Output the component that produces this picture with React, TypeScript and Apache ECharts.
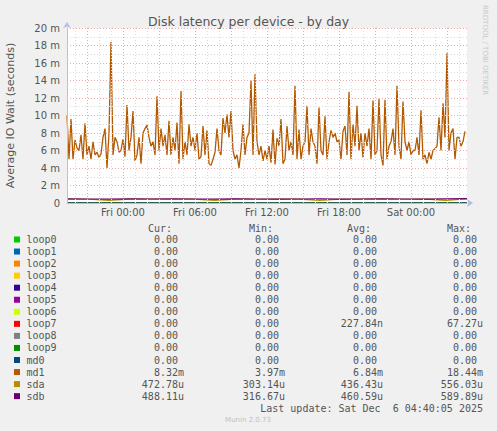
import React, { useEffect, useRef } from 'react';
import * as echarts from 'echarts';

// time axis: hours relative to Fri 00:00, 10 minute samples from Thu 19:20 to Sat 04:40
const startHour = -14 / 3;
const endHour = 28 + 2 / 3;
const stepHour = 1 / 6;

// md1 latency (ms)
const md1 = [
  10, 5, 9.6, 5, 7.2, 6.3, 6, 7.8, 5, 9.1, 5.5, 6.5, 5, 7, 5.5, 5.8, 5.2, 5.6, 7.5, 8.5,
  4, 8, 18.4, 5.5, 7.5, 7, 5.8, 6, 7.3, 5.3, 11.2, 6, 7.5, 10.5, 4.8, 5.5, 7.5, 4.5, 8, 8.5,
  8.9, 7.5, 6.5, 7, 5.5, 12.2, 6, 8.5, 6.5, 7.8, 5.5, 9.4, 5.5, 7.5, 6, 9.2, 4.5, 12.8, 5, 7,
  5.5, 9, 6.5, 7.5, 6, 8, 5, 5.3, 8.8, 5.5, 8.3, 4.5, 4.3, 5, 5.8, 8.5, 6, 5.5, 9.7, 8,
  10.1, 7.5, 10.5, 6, 5, 5.5, 4, 6, 9, 5.5, 7.5, 8, 14, 5.5, 14.7, 7, 5.5, 6.5, 4.8, 6,
  5, 6.5, 4.6, 8.4, 4.4, 7.4, 6.5, 9.6, 4.5, 5, 8.8, 6, 7, 5.5, 13.4, 5, 8.4, 5, 6.5, 7,
  11.1, 5.5, 8.5, 7, 6.5, 4.5, 10.9, 6, 5.5, 9.9, 5, 7, 8.3, 7.5, 8, 7, 7.2, 5, 8.2, 8.8,
  5.5, 12.7, 5, 9, 6.5, 11.1, 6, 8, 5.2, 8, 6.5, 8.5, 5, 11.7, 5.5, 6, 11.9, 5.5, 4.3, 11.8,
  5, 6.5, 7, 8.5, 5.5, 13.4, 6.5, 5, 11.6, 7, 6, 7, 5.5, 6, 6, 7.5, 5.5, 10.6, 5, 5.5,
  4.5, 5.8, 5, 6, 6.2, 6.5, 9.8, 6, 11.4, 7.5, 17.1, 6, 8, 8.5, 5, 7.5, 7.5, 6.5, 7, 8.2,
];

// sda / sdb latency (ms), coarse samples over the same span
const sda = [0.44, 0.43, 0.3, 0.44, 0.45, 0.43, 0.44, 0.31, 0.44, 0.43, 0.45, 0.44, 0.3, 0.43, 0.44, 0.45, 0.43, 0.44, 0.31, 0.47];
const sdb = [0.47, 0.46, 0.45, 0.47, 0.46, 0.48, 0.46, 0.45, 0.47, 0.46, 0.44, 0.46, 0.47, 0.45, 0.46, 0.47, 0.46, 0.45, 0.47, 0.49];
const flat = [0, 0];

const names = ['loop0', 'loop1', 'loop2', 'loop3', 'loop4', 'loop5', 'loop6', 'loop7', 'loop8', 'loop9', 'md0', 'md1', 'sda', 'sdb'];
const colors = ['#00CC00', '#0066B3', '#FF8000', '#FFCC00', '#330099', '#990099', '#CCFF00', '#FF0000', '#808080', '#008F00', '#00487D', '#B35A00', '#B38F00', '#6B006B'];
// stats in seconds
const curVals = [0, 0, 0, 0, 0, 0, 0, 0, 0, 0, 0, 8.32e-3, 472.78e-6, 488.11e-6];
const minVals = [0, 0, 0, 0, 0, 0, 0, 0, 0, 0, 0, 3.97e-3, 303.14e-6, 316.67e-6];
const avgVals = [0, 0, 0, 0, 0, 0, 0, 227.84e-9, 0, 0, 0, 6.84e-3, 436.43e-6, 460.59e-6];
const maxVals = [0, 0, 0, 0, 0, 0, 0, 67.27e-6, 0, 0, 0, 18.44e-3, 556.03e-6, 589.89e-6];

const xLabelHours = [0, 6, 12, 18, 24];
const xLabelTexts = ['Fri 00:00', 'Fri 06:00', 'Fri 12:00', 'Fri 18:00', 'Sat 00:00'];
const gridHours = [-4, -3, -2, -1, 0, 1, 2, 3, 4, 5, 6, 7, 8, 9, 10, 11, 12, 13, 14, 15, 16, 17, 18, 19, 20, 21, 22, 23, 24, 25, 26, 27, 28];

const mono = 'DejaVu Sans Mono';
const sans = 'DejaVu Sans';
const textGray = '#555';

const fmt = (v: number) => {
  if (v === 0) return { s: '0.00', unit: false };
  if (v >= 1e-3) return { s: (v * 1e3).toFixed(2) + 'm', unit: true };
  if (v >= 1e-6) return { s: (v * 1e6).toFixed(2) + 'u', unit: true };
  return { s: (v * 1e9).toFixed(2) + 'n', unit: true };
};

const App: React.FC = () => {
  const chartRef = useRef<HTMLDivElement>(null);

  useEffect(() => {
    document.body.style.margin = '0';
    if (!chartRef.current) return;
    const chart = echarts.init(chartRef.current, undefined, { renderer: 'svg' });

    const toPairs = (arr: number[], step: number) => arr.map((v, i) => [startHour + i * step, v]);
    const coarseStep = (endHour - startHour) / (sda.length - 1);

    const lineSeries: any[] = names.map((name, i) => {
      let data: number[][];
      if (name === 'md1') data = toPairs(md1, stepHour);
      else if (name === 'sda') data = toPairs(sda, coarseStep);
      else if (name === 'sdb') data = toPairs(sdb, coarseStep);
      else data = toPairs(flat, endHour - startHour);
      return {
        name,
        type: 'line',
        data,
        showSymbol: false,
        symbol: 'none',
        lineStyle: { color: colors[i], width: name === 'md1' ? 1.3 : 1.2 },
        z: 3,
      };
    });

    // hourly vertical grid (major every 3 hours)
    lineSeries.unshift({
      type: 'line',
      data: [],
      z: 1,
      silent: true,
      markLine: {
        silent: true,
        symbol: 'none',
        label: { show: false },
        animation: false,
        data: gridHours.map((h) => ({
          xAxis: h,
          lineStyle: {
            color: ((h % 3) + 3) % 3 === 0 ? '#f0a8a8' : '#dcdcdc',
            type: [1, 2],
            width: 1,
          },
        })),
      },
    });

    const colEdges = [184, 285, 383, 483];
    const statArrays = [curVals, minVals, avgVals, maxVals];
    const headers = ['Cur:', 'Min:', 'Avg:', 'Max:'];
    const rowY0 = 239.5;
    const rowH = 12.05;
    const charW = 6;

    const graphics: any[] = [];
    headers.forEach((h, c) => {
      graphics.push({
        type: 'text',
        x: colEdges[c] - 2 * charW,
        y: 228,
        style: { text: h, fill: textGray, font: `10px "${mono}"`, align: 'right', verticalAlign: 'middle' },
      });
    });
    names.forEach((name, r) => {
      const y = rowY0 + r * rowH;
      graphics.push({
        type: 'rect',
        shape: { x: 14, y: y - 3, width: 6, height: 6 },
        style: { fill: colors[r] },
      });
      graphics.push({
        type: 'text',
        x: 26.5,
        y,
        style: { text: name, fill: textGray, font: `10px "${mono}"`, verticalAlign: 'middle' },
      });
      statArrays.forEach((arr, c) => {
        const f = fmt(arr[r]);
        graphics.push({
          type: 'text',
          x: colEdges[c] - (f.unit ? 0 : charW),
          y,
          style: { text: f.s, fill: textGray, font: `10px "${mono}"`, align: 'right', verticalAlign: 'middle' },
        });
      });
    });
    graphics.push({
      type: 'text',
      x: 483,
      y: 408,
      style: { text: 'Last update: Sat Dec  6 04:40:05 2025', fill: textGray, font: `10px "${mono}"`, align: 'right', verticalAlign: 'middle' },
    });
    graphics.push({
      type: 'text',
      x: 248,
      y: 420,
      style: { text: 'Munin 2.0.73', fill: '#c0c0c0', font: `7px "${sans}"`, align: 'center', verticalAlign: 'middle' },
    });
    graphics.push({
      type: 'text',
      x: 485,
      y: 5,
      rotation: -Math.PI / 2,
      style: { text: 'RRDTOOL / TOBI OETIKER', fill: '#c8c8c8', font: `7px "${sans}"`, align: 'left', verticalAlign: 'middle' },
    });

    const option = {
      animation: false,
      backgroundColor: '#f0f0f0',
      title: {
        text: 'Disk latency per device - by day',
        left: 'center',
        top: 10,
        textStyle: { fontFamily: sans, fontSize: 12.5, fontWeight: 'normal', color: textGray },
      },
      grid: {
        left: 67,
        right: 30,
        top: 28,
        bottom: 228,
        backgroundColor: '#ffffff',
        show: true,
        borderWidth: 0,
        outerBoundsMode: 'none',
        containLabel: false,
      },
      xAxis: {
        type: 'value',
        min: startHour,
        max: endHour,
        z: 4,
        axisLine: { show: true, onZero: false, symbol: ['none', 'arrow'], symbolSize: [6, 6], symbolOffset: [0, 6], lineStyle: { color: '#b4bce0', width: 1 } },
        axisTick: { show: false, customValues: xLabelHours },
        splitLine: { show: false },
        axisLabel: {
          customValues: xLabelHours,
          color: textGray,
          fontFamily: sans,
          fontSize: 10,
          margin: 4,
          formatter: (v: number) => {
            const i = xLabelHours.indexOf(Math.round(v));
            return i >= 0 ? xLabelTexts[i] : '';
          },
        },
      },
      yAxis: {
        type: 'value',
        min: 0,
        max: 20,
        interval: 1,
        z: 4,
        name: 'Average IO Wait (seconds)',
        nameLocation: 'middle',
        nameRotate: 90,
        nameGap: 51,
        nameTextStyle: { color: textGray, fontFamily: sans, fontSize: 11 },
        axisLine: { show: true, onZero: false, symbol: ['none', 'arrow'], symbolSize: [6, 6], symbolOffset: [0, 6], lineStyle: { color: '#b8bee8', width: 1 } },
        axisTick: { show: false },
        splitLine: { show: true, lineStyle: { color: ['#f0a8a8', '#dcdcdc'], type: [1, 2], width: 1 } },
        axisLabel: {
          color: textGray,
          fontFamily: sans,
          fontSize: 10,
          margin: 7,
          formatter: (v: number) => (v === 0 ? '0' : v % 2 === 0 ? `${v} m` : ''),
        },
      },
      series: lineSeries,
      graphic: graphics,
    };

    chart.setOption(option);
    return () => {
      chart.dispose();
    };
  }, []);

  return <div ref={chartRef} style={{ position: 'absolute', left: 0, top: 0, width: 497, height: 431 }} />;
};

export default App;
